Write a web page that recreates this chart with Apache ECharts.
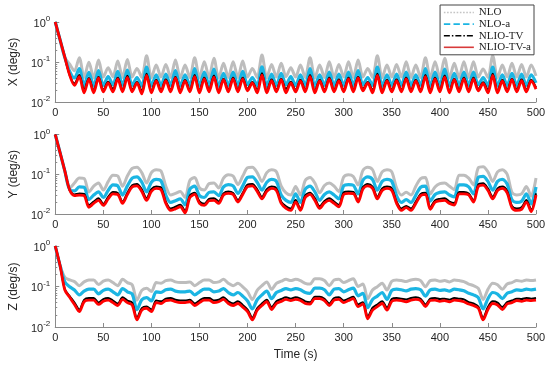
<!DOCTYPE html>
<html>
<head>
<meta charset="utf-8">
<script src="https://cdn.jsdelivr.net/npm/echarts@6/dist/echarts.min.js"></script>
<style>
html,body{margin:0;padding:0;background:#fff;}
#chart{width:550px;height:368px;}
</style>
</head>
<body>
<div id="chart"></div>
<script>
// time samples (s)
const time = [0,5,10,15,20,25,30,35,40,45,50,55,60,65,70,75,80,85,90,95,100,105,110,115,120,125,130,135,140,145,150,155,160,165,170,175,180,185,190,195,200,205,210,215,220,225,230,235,240,245,250,255,260,265,270,275,280,285,290,295,300,305,310,315,320,325,330,335,340,345,350,355,360,365,370,375,380,385,390,395,400,405,410,415,420,425,430,435,440,445,450,455,460,465,470,475,480,485,490,495,500];

const seriesNames = ['NLO','NLO-a','NLIO-TV','NLIO-TV-a'];
const axisNames = ['X (deg/s)','Y (deg/s)','Z (deg/s)'];
const xTicks = [0,50,100,150,200,250,300,350,400,450,500];
const yTicks = [0.01,0.1,1];
const yMinorTicks = [0.02,0.03,0.04,0.05,0.06,0.07,0.08,0.09,0.2,0.3,0.4,0.5,0.6,0.7,0.8,0.9];

// X axis
const xNLO = [1,0.36,0.13,0.088,0.060,
0.128,0.041,0.098,0.040,0.112,0.042,0.072,0.043,0.106,0.041,
0.116,0.042,0.069,0.041,0.144,0.040,0.084,0.042,0.087,0.041,
0.112,0.040,0.084,0.041,0.128,0.040,0.102,0.041,0.124,0.040,
0.093,0.041,0.102,0.041,0.106,0.042,0.069,0.041,0.150,0.040,
0.087,0.042,0.093,0.043,0.072,0.042,0.084,0.041,0.128,0.040,
0.084,0.041,0.102,0.041,0.087,0.042,0.102,0.041,0.112,0.042,
0.069,0.041,0.144,0.040,0.084,0.042,0.087,0.042,0.102,0.041,
0.084,0.041,0.128,0.040,0.102,0.041,0.124,0.040,0.093,0.041,
0.102,0.041,0.102,0.042,0.067,0.041,0.144,0.040,0.084,0.042,
0.093,0.042,0.087,0.042,0.084,0.045];
const xNLOa = [1,0.36,0.13,0.058,0.040,
0.068,0.026,0.055,0.025,0.061,0.026,0.043,0.027,0.058,0.026,
0.063,0.026,0.041,0.025,0.075,0.025,0.048,0.026,0.050,0.026,
0.061,0.025,0.048,0.026,0.068,0.025,0.056,0.026,0.066,0.025,
0.052,0.026,0.056,0.026,0.058,0.027,0.041,0.026,0.076,0.025,
0.050,0.026,0.052,0.027,0.043,0.026,0.048,0.026,0.068,0.025,
0.048,0.026,0.056,0.026,0.050,0.026,0.056,0.026,0.061,0.027,
0.041,0.026,0.075,0.025,0.048,0.026,0.050,0.026,0.056,0.026,
0.048,0.026,0.068,0.025,0.056,0.026,0.066,0.025,0.052,0.026,
0.056,0.026,0.056,0.027,0.0405,0.026,0.075,0.025,0.048,0.026,
0.052,0.026,0.050,0.026,0.048,0.030];
const xTV = [1,0.36,0.13,0.047,0.029,
0.047,0.020,0.040,0.019,0.043,0.020,0.032,0.021,0.041,0.020,
0.045,0.020,0.0315,0.019,0.051,0.019,0.036,0.020,0.037,0.020,
0.043,0.019,0.036,0.020,0.047,0.019,0.041,0.020,0.046,0.019,
0.038,0.020,0.041,0.020,0.041,0.021,0.0315,0.020,0.052,0.019,
0.037,0.020,0.038,0.021,0.032,0.020,0.036,0.020,0.047,0.019,
0.036,0.020,0.041,0.020,0.037,0.020,0.041,0.020,0.043,0.021,
0.0315,0.020,0.051,0.019,0.036,0.020,0.037,0.020,0.041,0.020,
0.036,0.020,0.047,0.019,0.041,0.020,0.046,0.019,0.038,0.020,
0.041,0.020,0.041,0.021,0.031,0.020,0.051,0.019,0.036,0.020,
0.038,0.020,0.037,0.020,0.036,0.023];
const xTVa = [1,0.36,0.13,0.047,0.026,
0.043,0.017,0.037,0.017,0.040,0.018,0.030,0.018,0.038,0.018,
0.041,0.018,0.030,0.016,0.046,0.017,0.0335,0.018,0.034,0.018,
0.040,0.017,0.0335,0.018,0.043,0.017,0.038,0.018,0.042,0.017,
0.036,0.018,0.038,0.018,0.038,0.019,0.030,0.017,0.047,0.017,
0.034,0.018,0.036,0.017,0.030,0.018,0.0335,0.018,0.043,0.017,
0.0335,0.018,0.038,0.018,0.034,0.018,0.038,0.018,0.040,0.019,
0.030,0.017,0.046,0.017,0.0335,0.018,0.034,0.018,0.038,0.018,
0.0335,0.018,0.043,0.017,0.038,0.018,0.042,0.017,0.036,0.018,
0.038,0.018,0.038,0.019,0.029,0.017,0.046,0.017,0.0335,0.018,
0.036,0.018,0.034,0.018,0.0335,0.021];

// Y axis
const yNLO = [1,0.35,0.12,0.045,0.060,
0.080,0.078,0.036,0.050,0.060,0.040,0.065,0.095,0.090,0.050,
0.090,0.140,0.150,0.110,0.060,0.110,0.130,0.120,0.050,0.030,
0.033,0.037,0.026,0.070,0.083,0.045,0.040,0.058,0.060,0.045,
0.080,0.097,0.090,0.055,0.090,0.145,0.150,0.110,0.066,0.110,
0.130,0.115,0.050,0.034,0.030,0.049,0.030,0.070,0.083,0.060,
0.034,0.052,0.060,0.050,0.037,0.085,0.097,0.088,0.054,0.125,
0.150,0.130,0.066,0.115,0.130,0.115,0.045,0.030,0.035,0.030,
0.050,0.078,0.083,0.032,0.048,0.058,0.060,0.050,0.041,0.095,
0.095,0.080,0.054,0.145,0.155,0.115,0.066,0.115,0.130,0.100,
0.035,0.030,0.032,0.049,0.028,0.080];
const yNLOa = [1,0.35,0.12,0.041,0.038,
0.048,0.047,0.023,0.030,0.036,0.026,0.039,0.054,0.051,0.030,
0.051,0.080,0.086,0.063,0.036,0.063,0.074,0.068,0.030,0.0195,
0.0215,0.024,0.0169,0.042,0.050,0.029,0.026,0.035,0.036,0.029,
0.048,0.055,0.051,0.033,0.051,0.083,0.086,0.063,0.040,0.063,
0.074,0.066,0.030,0.022,0.0195,0.032,0.0195,0.042,0.050,0.036,
0.022,0.031,0.036,0.030,0.024,0.051,0.055,0.053,0.032,0.071,
0.086,0.074,0.040,0.066,0.074,0.066,0.029,0.0195,0.023,0.0195,
0.030,0.047,0.050,0.021,0.031,0.035,0.036,0.030,0.027,0.054,
0.054,0.048,0.032,0.083,0.088,0.066,0.040,0.066,0.074,0.057,
0.023,0.0195,0.021,0.032,0.018,0.048];
const yTV = [1,0.35,0.12,0.040,0.031,
0.033,0.032,0.0166,0.0205,0.025,0.018,0.027,0.036,0.034,0.0205,
0.034,0.053,0.057,0.042,0.025,0.042,0.049,0.046,0.0205,0.0138,
0.0152,0.017,0.012,0.029,0.034,0.0207,0.018,0.024,0.025,0.0207,
0.033,0.037,0.034,0.0225,0.034,0.055,0.057,0.042,0.027,0.042,
0.049,0.044,0.0205,0.0156,0.0138,0.0225,0.0138,0.029,0.034,0.025,
0.0156,0.0213,0.025,0.0205,0.017,0.035,0.037,0.036,0.022,0.0475,
0.057,0.049,0.027,0.044,0.049,0.044,0.0207,0.0138,0.016,0.0138,
0.0205,0.032,0.034,0.0147,0.022,0.024,0.025,0.0205,0.0189,0.036,
0.036,0.033,0.022,0.055,0.059,0.044,0.027,0.044,0.049,0.038,
0.016,0.0138,0.0147,0.0225,0.0129,0.033];
const yTVa = [1,0.35,0.12,0.040,0.029,
0.030,0.029,0.0148,0.0185,0.022,0.0164,0.024,0.032,0.031,0.0185,
0.031,0.048,0.051,0.037,0.022,0.037,0.044,0.041,0.0185,0.0123,
0.0135,0.0152,0.0107,0.026,0.031,0.0185,0.0164,0.0215,0.022,0.0185,
0.030,0.033,0.031,0.020,0.031,0.049,0.051,0.037,0.024,0.037,
0.044,0.039,0.0185,0.0139,0.0123,0.020,0.0123,0.026,0.031,0.022,
0.0139,0.019,0.022,0.0185,0.0152,0.031,0.033,0.0325,0.020,0.0425,
0.051,0.044,0.024,0.039,0.044,0.039,0.0185,0.0123,0.0144,0.0123,
0.0185,0.029,0.031,0.0131,0.0197,0.0215,0.022,0.0185,0.0168,0.032,
0.032,0.030,0.020,0.049,0.053,0.039,0.024,0.039,0.044,0.034,
0.0144,0.0123,0.0131,0.020,0.0115,0.030];

// Z axis
const zNLO = [1,0.33,0.168,0.145,0.132,
0.105,0.130,0.145,0.145,0.112,0.135,0.145,0.125,0.105,0.150,
0.125,0.110,0.046,0.080,0.090,0.075,0.125,0.120,0.140,0.145,
0.130,0.125,0.125,0.130,0.105,0.125,0.145,0.145,0.125,0.130,
0.150,0.120,0.105,0.120,0.098,0.075,0.048,0.080,0.105,0.130,
0.085,0.120,0.135,0.150,0.140,0.150,0.140,0.120,0.115,0.155,
0.155,0.140,0.105,0.145,0.150,0.125,0.140,0.155,0.100,0.115,
0.050,0.082,0.099,0.120,0.082,0.135,0.145,0.140,0.132,0.145,
0.150,0.140,0.099,0.140,0.145,0.135,0.140,0.130,0.145,0.140,
0.132,0.115,0.105,0.090,0.048,0.085,0.120,0.110,0.085,0.115,
0.125,0.140,0.135,0.145,0.140,0.145];
const zNLOa = [1,0.33,0.13,0.099,0.082,
0.062,0.077,0.086,0.086,0.066,0.080,0.086,0.074,0.062,0.089,
0.074,0.065,0.027,0.047,0.053,0.044,0.074,0.071,0.083,0.086,
0.077,0.074,0.074,0.077,0.062,0.074,0.086,0.086,0.074,0.077,
0.089,0.071,0.062,0.071,0.058,0.044,0.028,0.047,0.062,0.077,
0.050,0.071,0.080,0.089,0.083,0.089,0.083,0.071,0.068,0.091,
0.091,0.083,0.062,0.086,0.089,0.074,0.083,0.091,0.059,0.068,
0.030,0.048,0.058,0.071,0.048,0.080,0.086,0.083,0.078,0.086,
0.089,0.083,0.058,0.083,0.086,0.080,0.083,0.077,0.086,0.083,
0.078,0.068,0.062,0.053,0.028,0.050,0.071,0.065,0.050,0.068,
0.074,0.083,0.080,0.086,0.083,0.086];
const zTV = [1,0.33,0.085,0.058,0.040,
0.027,0.047,0.052,0.052,0.040,0.049,0.052,0.045,0.038,0.054,
0.045,0.040,0.017,0.029,0.032,0.027,0.045,0.043,0.050,0.052,
0.047,0.045,0.045,0.047,0.038,0.045,0.052,0.052,0.045,0.047,
0.054,0.043,0.038,0.043,0.035,0.027,0.017,0.029,0.038,0.047,
0.031,0.043,0.049,0.054,0.050,0.054,0.050,0.043,0.041,0.056,
0.056,0.050,0.038,0.052,0.054,0.045,0.050,0.056,0.036,0.041,
0.018,0.030,0.036,0.043,0.030,0.049,0.052,0.050,0.048,0.052,
0.054,0.050,0.036,0.050,0.052,0.049,0.050,0.047,0.052,0.050,
0.048,0.041,0.038,0.032,0.017,0.031,0.043,0.040,0.031,0.041,
0.045,0.050,0.049,0.052,0.050,0.052];
const zTVa = [1,0.33,0.082,0.054,0.036,
0.024,0.042,0.046,0.046,0.036,0.043,0.046,0.040,0.034,0.048,
0.040,0.035,0.015,0.026,0.029,0.024,0.040,0.038,0.045,0.046,
0.042,0.040,0.040,0.042,0.034,0.040,0.046,0.046,0.040,0.042,
0.048,0.038,0.034,0.038,0.031,0.024,0.015,0.026,0.034,0.042,
0.027,0.038,0.043,0.048,0.045,0.048,0.045,0.038,0.037,0.050,
0.050,0.045,0.034,0.046,0.048,0.040,0.045,0.050,0.032,0.037,
0.016,0.026,0.032,0.038,0.026,0.043,0.046,0.045,0.042,0.046,
0.048,0.045,0.032,0.045,0.046,0.043,0.045,0.042,0.046,0.045,
0.042,0.037,0.034,0.029,0.015,0.027,0.038,0.035,0.027,0.037,
0.040,0.045,0.043,0.046,0.045,0.046];

const panels = [
  [xNLO, xNLOa, xTV, xTVa],
  [yNLO, yNLOa, yTV, yTVa],
  [zNLO, zNLOa, zTV, zTVa]
];

const colors = ['#bdbdbd', '#1bb5e3', '#000000', '#ff0000'];
const legendColors = ['#c4c4c4', '#1bb5e3', '#000000', '#d83a3a'];
const widths = [3, 3.2, 2, 2.8];
const legendTypes = ['dotted', 'dashed', [6, 2, 1.5, 2], 'solid'];

const FONT = 'Liberation Sans, Arial, sans-serif';
const TXT = '#262626';
const AXC = '#8a8a8a';

const grids = [
  {left: 48, top: 22, width: 488, height: 80},
  {left: 48, top: 134.5, width: 488, height: 79.5},
  {left: 48, top: 246, width: 488, height: 81}
];

const xAxes = [], yAxes = [], series = [];
grids.forEach((g, i) => {
  xAxes.push({
    type: 'value', gridIndex: i, min: 0, max: 500, interval: 50,
    axisLine: {show: true, lineStyle: {color: AXC, width: 1}},
    axisTick: {show: true, inside: true, length: 4, lineStyle: {color: AXC}},
    axisLabel: {color: TXT, fontSize: 11, fontFamily: FONT, margin: 5,
      customValues: xTicks},
    splitLine: {show: false},
    name: i === 2 ? 'Time (s)' : '',
    nameLocation: 'middle', nameGap: 22,
    nameTextStyle: {color: TXT, fontSize: 12, fontFamily: FONT}
  });
  yAxes.push({
    type: 'log', logBase: 10, gridIndex: i, min: 0.01, max: 1, position: 'left',
    axisLine: {show: true, lineStyle: {color: AXC, width: 1}},
    axisTick: {show: true, inside: true, length: 4, lineStyle: {color: AXC}, customValues: yTicks},
    axisLabel: {
      color: TXT, fontFamily: FONT, margin: 5, customValues: yTicks,
      formatter: function (v) {
        const e = Math.round(Math.log10(v));
        return '{b|10}{s|' + e + '}';
      },
      rich: {
        b: {fontSize: 11, fontFamily: FONT, color: TXT, lineHeight: 14, verticalAlign: 'bottom'},
        s: {fontSize: 8, fontFamily: FONT, color: TXT, lineHeight: 8, verticalAlign: 'top'}
      }
    },
    splitLine: {show: false},
    name: axisNames[i], nameLocation: 'middle', nameGap: 29,
    nameTextStyle: {color: TXT, fontSize: 12, fontFamily: FONT}
  });
  yAxes.push({
    type: 'log', logBase: 10, gridIndex: i, min: 0.01, max: 1, position: 'left', offset: 0,
    axisLine: {show: false},
    axisTick: {show: true, inside: true, length: 2, lineStyle: {color: AXC}, customValues: yMinorTicks},
    axisLabel: {show: false},
    splitLine: {show: false}
  });
  panels[i].forEach((vals, k) => {
    series.push({
      name: seriesNames[k], type: 'line',
      xAxisIndex: i, yAxisIndex: i * 2,
      data: time.map((t, j) => [t, vals[j]]),
      showSymbol: false, symbol: 'none', smooth: 0.3,
      lineStyle: {color: colors[k], width: widths[k]},
      itemStyle: {color: colors[k]},
      z: 2 + k, animation: false, clip: true
    });
  });
});

const chart = echarts.init(document.getElementById('chart'), null, {renderer: 'canvas'});
chart.setOption({
  animation: false,
  backgroundColor: '#ffffff',
  grid: grids,
  xAxis: xAxes,
  yAxis: yAxes,
  legend: {
    orient: 'vertical', right: 16, top: 5,
    backgroundColor: '#ffffff', borderColor: '#444', borderWidth: 1,
    padding: [2, 3, 2, 3], itemGap: 0.6, itemWidth: 30, itemHeight: 9,
    textStyle: {fontFamily: 'Liberation Serif, Times New Roman, serif', fontSize: 11, lineHeight: 11, color: '#222'},
    data: seriesNames.map((n, k) => ({
      name: n,
      itemStyle: {color: 'rgba(0,0,0,0)', borderWidth: 0, opacity: 0},
      lineStyle: {color: legendColors[k], width: 1.6, type: legendTypes[k], opacity: 1}
    }))
  },
  series: series
});
</script>
</body>
</html>
